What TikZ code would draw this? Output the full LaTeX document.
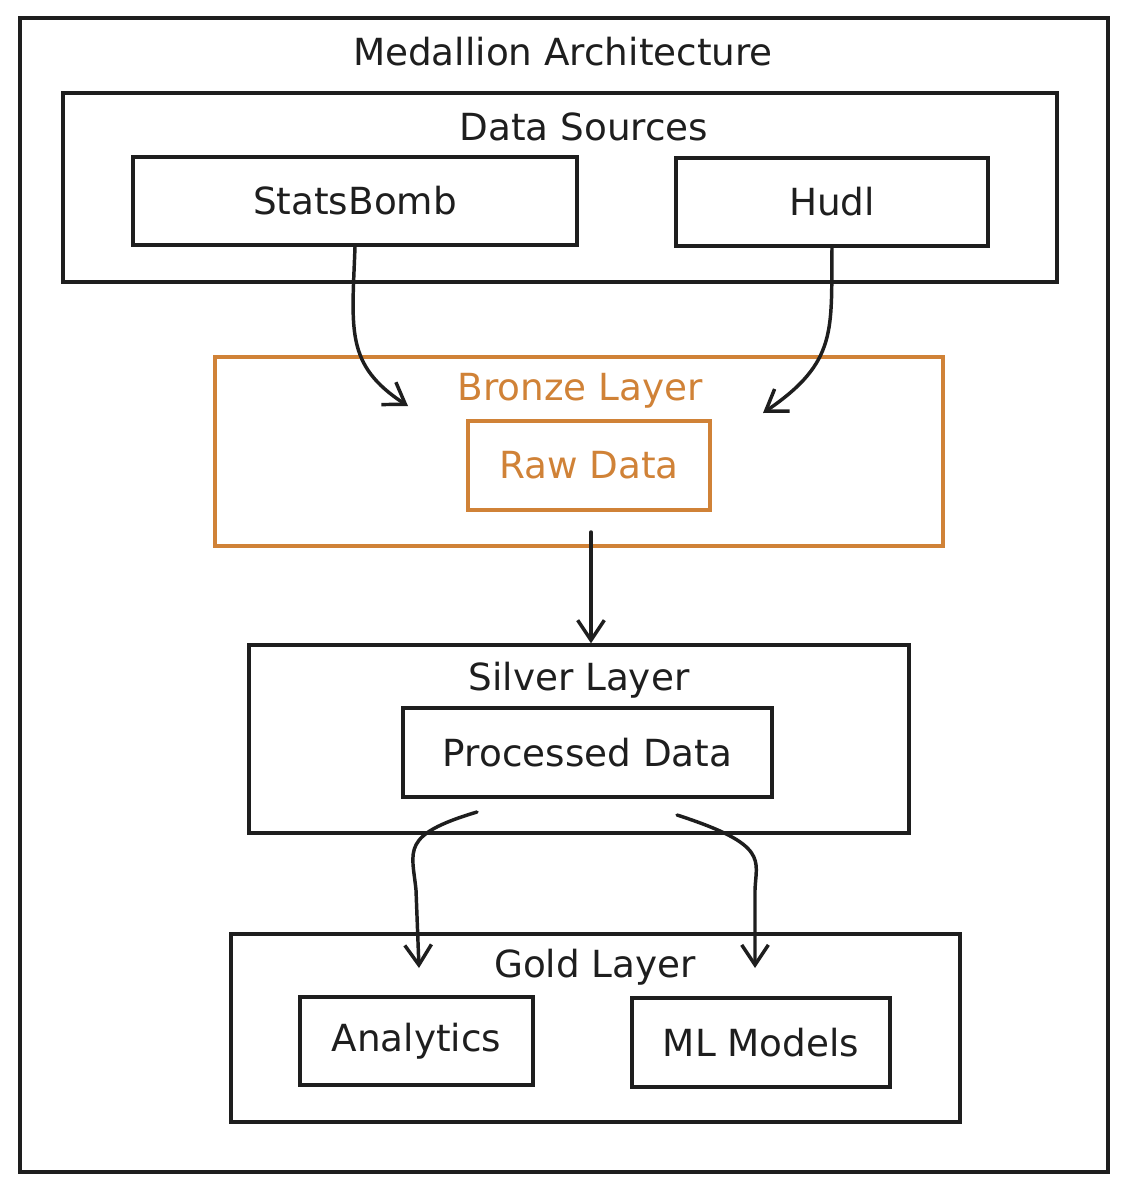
\documentclass[tikz,border=0pt]{standalone}
\usepackage{fontspec}
\setmainfont{DejaVu Sans}
\usetikzlibrary{arrows.meta,fit,calc}
\definecolor{ink}{RGB}{30,30,30}
\definecolor{bronze}{RGB}{208,130,55}
\begin{document}
\begin{tikzpicture}[x=0.75pt,y=-0.75pt,
  frame/.style={draw=ink, line width=2.6pt, inner sep=0pt},
  box/.style={draw=ink, line width=2.6pt, inner sep=0pt, text=ink, font=\fontsize{28}{32}\selectfont},
  bbox/.style={box, draw=bronze, text=bronze},
  ttl/.style={inner sep=0pt, text=ink, font=\fontsize{28}{32}\selectfont},
  arr/.style={draw=ink, line width=2.6pt, line cap=round, -{Straight Barb[length=15pt,width=20pt]}}]
\useasboundingbox (0,0) rectangle (1127,1192);
% containers
\node[frame, fit={(20,18)(1108,1172)}] (outer) {};
\node[ttl] (title) at (563,52) {Medallion Architecture};
\node[frame, fit={(63,93)(1057,282)}] (src) {};
\node[ttl] (srct) at (584,127) {Data Sources};
\node[box, minimum width=333pt, minimum height=66pt] (sb) at (355,201) {StatsBomb};
\node[box, minimum width=234pt, minimum height=66pt] (hudl) at (832,202) {Hudl};
\node[frame, draw=bronze, fit={(215,357)(943,546)}] (bronze) {};
\node[ttl, text=bronze] (bronzet) at (580,391) {Bronze Layer};
\node[bbox, minimum width=181.5pt, minimum height=66.75pt] (raw) at (589,465.5) {Raw Data};
\node[frame, fit={(249,645)(909,833)}] (silver) {};
\node[ttl] (silvert) at (579,680) {Silver Layer};
\node[box, minimum width=276.75pt, minimum height=66.75pt] (proc) at (587.5,752.5) {Processed Data};
\node[frame, fit={(231,934)(960,1122)}] (gold) {};
\node[ttl] (goldt) at (595,967) {Gold Layer};
\node[box, minimum width=174.75pt, minimum height=66pt] (ana) at (416.5,1041) {Analytics};
\node[box, minimum width=193.5pt, minimum height=66.75pt] (ml) at (761,1042.5) {ML Models};
% connector ends
\coordinate (b1) at (408,406);
\coordinate (b2) at (763,413);
\coordinate (r1) at (591,532);
\coordinate (p1) at (477,812);
\coordinate (p2) at (677,815);
\coordinate (g1) at (419,968);
\coordinate (g2) at (755,968);
% connectors
\draw[arr] (sb.south) .. controls (352,330) and (345,365) .. (b1);
\draw[arr] (hudl.south) .. controls (831,330) and (838,362) .. (b2);
\draw[arr] (r1) -- (r1 |- silver.north);
\draw[arr] (p1) .. controls (400,835) and (412,850) .. (416,890) -- (g1);
\draw[arr] (p2) .. controls (770,845) and (756,860) .. (755,890) -- (g2);
\end{tikzpicture}
\end{document}
